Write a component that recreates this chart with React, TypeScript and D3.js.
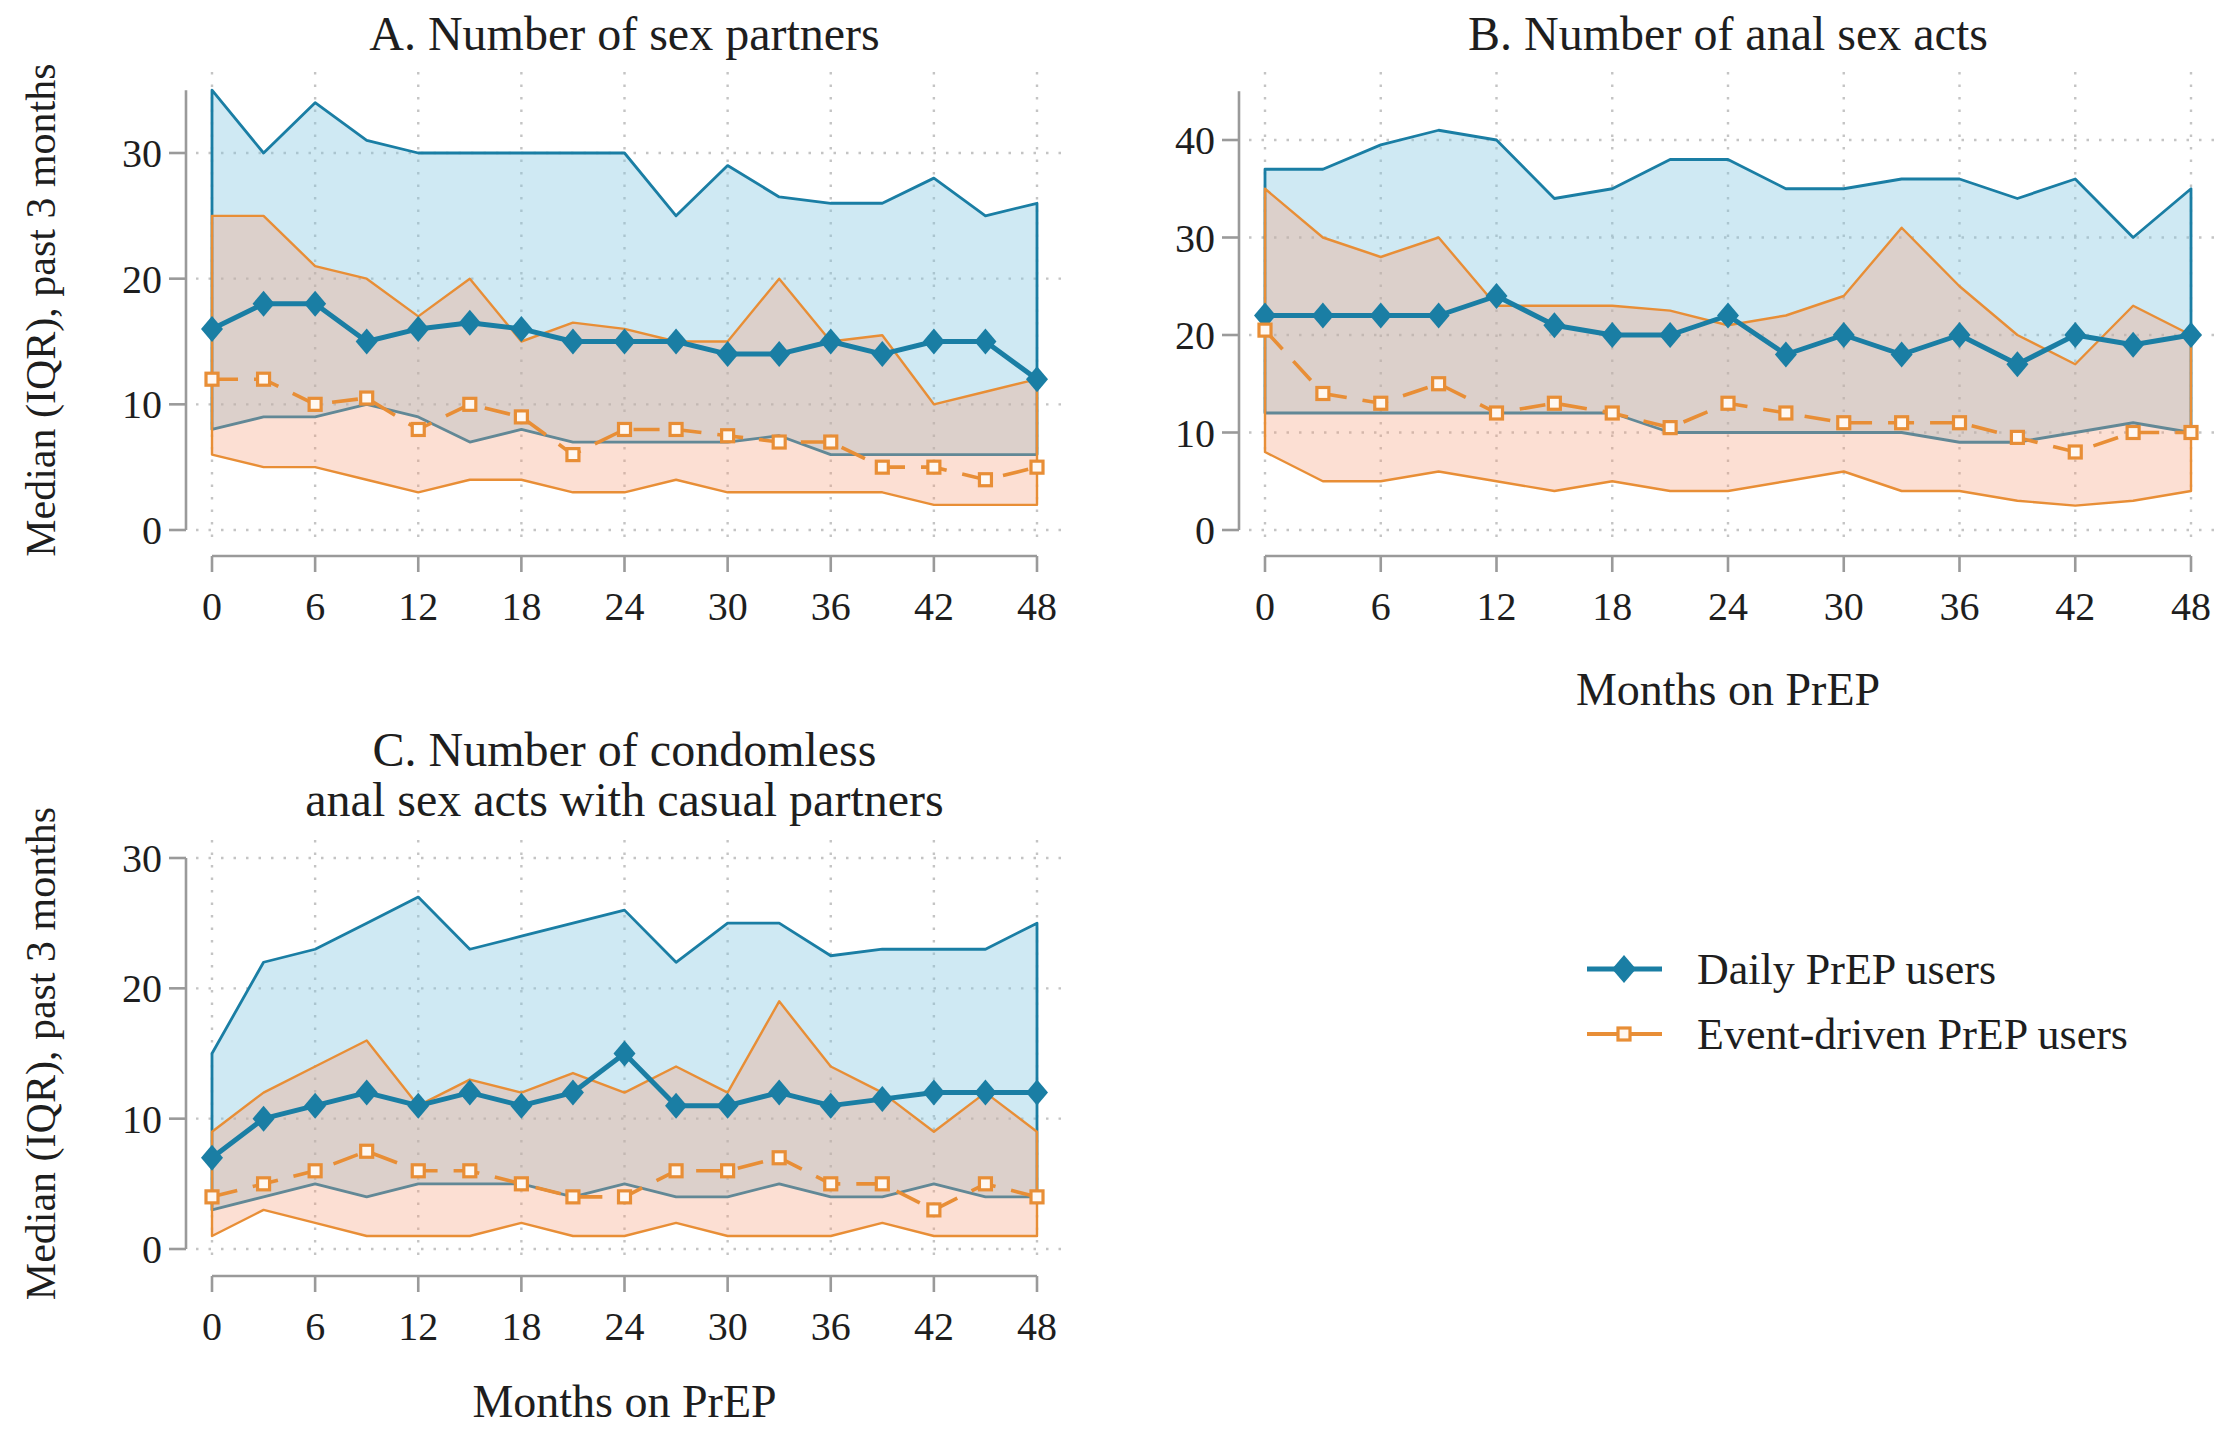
import React from 'react';
import * as d3 from 'd3';

const months = [0, 3, 6, 9, 12, 15, 18, 21, 24, 27, 30, 33, 36, 39, 42, 45, 48];
const xTicks = [0, 6, 12, 18, 24, 30, 36, 42, 48];

// A. Number of sex partners
const dailyMedA = [16, 18, 18, 15, 16, 16.5, 16, 15, 15, 15, 14, 14, 15, 14, 15, 15, 12];
const dailyP25A = [8, 9, 9, 10, 9, 7, 8, 7, 7, 7, 7, 7.5, 6, 6, 6, 6, 6];
const dailyP75A = [35, 30, 34, 31, 30, 30, 30, 30, 30, 25, 29, 26.5, 26, 26, 28, 25, 26];
const eventMedA = [12, 12, 10, 10.5, 8, 10, 9, 6, 8, 8, 7.5, 7, 7, 5, 5, 4, 5];
const eventP25A = [6, 5, 5, 4, 3, 4, 4, 3, 3, 4, 3, 3, 3, 3, 2, 2, 2];
const eventP75A = [25, 25, 21, 20, 17, 20, 15, 16.5, 16, 15, 15, 20, 15, 15.5, 10, 11, 12];

// B. Number of anal sex acts
const dailyMedB = [22, 22, 22, 22, 24, 21, 20, 20, 22, 18, 20, 18, 20, 17, 20, 19, 20];
const dailyP25B = [12, 12, 12, 12, 12, 12, 12, 10, 10, 10, 10, 10, 9, 9, 10, 11, 10];
const dailyP75B = [37, 37, 39.5, 41, 40, 34, 35, 38, 38, 35, 35, 36, 36, 34, 36, 30, 35];
const eventMedB = [20.5, 14, 13, 15, 12, 13, 12, 10.5, 13, 12, 11, 11, 11, 9.5, 8, 10, 10];
const eventP25B = [8, 5, 5, 6, 5, 4, 5, 4, 4, 5, 6, 4, 4, 3, 2.5, 3, 4];
const eventP75B = [35, 30, 28, 30, 23, 23, 23, 22.5, 21, 22, 24, 31, 25, 20, 17, 23, 20];

// C. Number of condomless anal sex acts with casual partners
const dailyMedC = [7, 10, 11, 12, 11, 12, 11, 12, 15, 11, 11, 12, 11, 11.5, 12, 12, 12];
const dailyP25C = [3, 4, 5, 4, 5, 5, 5, 4, 5, 4, 4, 5, 4, 4, 5, 4, 4];
const dailyP75C = [15, 22, 23, 25, 27, 23, 24, 25, 26, 22, 25, 25, 22.5, 23, 23, 23, 25];
const eventMedC = [4, 5, 6, 7.5, 6, 6, 5, 4, 4, 6, 6, 7, 5, 5, 3, 5, 4];
const eventP25C = [1, 3, 2, 1, 1, 1, 2, 1, 1, 2, 1, 1, 1, 2, 1, 1, 1];
const eventP75C = [9, 12, 14, 16, 11, 13, 12, 13.5, 12, 14, 12, 19, 14, 12, 9, 12, 9];

const legendLabels = ['Daily PrEP users', 'Event-driven PrEP users'];

const BLUE = '#1a7ea4';
const BLUE_FILL = 'rgb(135,200,225)';
const ORANGE = '#e88e36';
const ORANGE_FILL = 'rgb(246,159,120)';
const AXIS = '#9a9a9a';
const GRID = '#c4c4c4';
const TEXT = '#1e1e1e';
const FONT = '"Liberation Serif", "Times New Roman", Times, serif';

type Series = { med: number[]; p25: number[]; p75: number[] };

const diamond = (w: number, h: number) => `M0,${-h}L${w},0L0,${h}L${-w},0Z`;

type PanelProps = {
  title: string[];
  titleY: number;
  daily: Series;
  event: Series;
  xRange: [number, number];
  yMap: [number, number, number, number]; // value0, px0, value1, px1
  yMax: number;
  yTicks: number[];
  axisX: number;
  xAxisY: number;
  plotTop: number;
  plotRight: number;
  xTitleY?: number;
  yTitle?: boolean;
};

function Panel(p: PanelProps) {
  const x = d3.scaleLinear().domain([0, 48]).range(p.xRange);
  const y = d3.scaleLinear().domain([p.yMap[0], p.yMap[2]]).range([p.yMap[1], p.yMap[3]]);

  const area = (s: Series) =>
    d3.area<number>()
      .x((m) => x(m))
      .y0((_, i) => y(s.p25[i]))
      .y1((_, i) => y(s.p75[i]))(months) as string;

  const line = (vals: number[]) =>
    d3.line<number>()
      .x((m) => x(m))
      .y((_, i) => y(vals[i]))(months) as string;

  const cx = (p.xRange[0] + p.xRange[1]) / 2;
  const gridBottom = y(0) + 14;

  return (
    <g>
      {/* gridlines */}
      {p.yTicks.map((t) => (
        <line key={'hy' + t} x1={p.axisX + 10} x2={p.plotRight} y1={y(t)} y2={y(t)}
          stroke={GRID} strokeWidth={2.4} strokeDasharray="2.5 10" />
      ))}
      {xTicks.map((t) => (
        <line key={'vx' + t} x1={x(t)} x2={x(t)} y1={p.plotTop} y2={gridBottom}
          stroke={GRID} strokeWidth={2.4} strokeDasharray="2.5 10" />
      ))}

      {/* IQR bands */}
      <path d={area(p.daily)} fill={BLUE_FILL} fillOpacity={0.4} stroke={BLUE} strokeWidth={2.8} strokeLinejoin="round" />
      <path d={area(p.event)} fill={ORANGE_FILL} fillOpacity={0.33} stroke={ORANGE} strokeWidth={2.4} strokeLinejoin="round" />

      {/* medians */}
      <path d={line(p.daily.med)} fill="none" stroke={BLUE} strokeWidth={5} strokeLinejoin="round" />
      {months.map((m, i) => (
        <path key={'d' + m} d={diamond(11, 13)} transform={`translate(${x(m)},${y(p.daily.med[i])})`} fill={BLUE} />
      ))}
      <path d={line(p.event.med)} fill="none" stroke={ORANGE} strokeWidth={3.6} strokeDasharray="26 16" />
      {months.map((m, i) => (
        <rect key={'e' + m} x={x(m) - 6} y={y(p.event.med[i]) - 6} width={12} height={12}
          fill="#fff8f2" stroke={ORANGE} strokeWidth={3.2} />
      ))}

      {/* y axis */}
      <line x1={p.axisX} x2={p.axisX} y1={y(0)} y2={y(p.yMax)} stroke={AXIS} strokeWidth={2.6} />
      {p.yTicks.map((t) => (
        <g key={'yt' + t}>
          <line x1={p.axisX - 17} x2={p.axisX} y1={y(t)} y2={y(t)} stroke={AXIS} strokeWidth={2.6} />
          <text x={p.axisX - 24} y={y(t)} dy="0.35em" textAnchor="end" fontSize={40} fill={TEXT}>{t}</text>
        </g>
      ))}

      {/* x axis */}
      <line x1={x(0)} x2={x(48)} y1={p.xAxisY} y2={p.xAxisY} stroke={AXIS} strokeWidth={2.6} />
      {xTicks.map((t) => (
        <g key={'xt' + t}>
          <line x1={x(t)} x2={x(t)} y1={p.xAxisY} y2={p.xAxisY + 16} stroke={AXIS} strokeWidth={2.6} />
          <text x={x(t)} y={p.xAxisY + 64} textAnchor="middle" fontSize={40} fill={TEXT}>{t}</text>
        </g>
      ))}

      {/* titles */}
      {p.title.map((tl, i) => (
        <text key={tl} x={cx} y={p.titleY + i * 50} textAnchor="middle" fontSize={48} fill={TEXT}>{tl}</text>
      ))}
      {p.xTitleY !== undefined && (
        <text x={cx} y={p.xTitleY} textAnchor="middle" fontSize={46} fill={TEXT}>Months on PrEP</text>
      )}
      {p.yTitle && (
        <text transform={`translate(55,${(y(0) + y(p.yMax)) / 2}) rotate(-90)`} textAnchor="middle" fontSize={42} fill={TEXT}>
          Median (IQR), past 3 months
        </text>
      )}
    </g>
  );
}

export default function App() {
  return (
    <div style={{ position: 'absolute', left: 0, top: 0 }}>
      <svg width={2217} height={1429} style={{ display: 'block', background: '#fff', fontFamily: FONT }}>
        <Panel
          title={['A. Number of sex partners']}
          titleY={50}
          daily={{ med: dailyMedA, p25: dailyP25A, p75: dailyP75A }}
          event={{ med: eventMedA, p25: eventP25A, p75: eventP75A }}
          xRange={[212, 1037]}
          yMap={[0, 530, 30, 153]}
          yMax={35}
          yTicks={[0, 10, 20, 30]}
          axisX={186}
          xAxisY={556}
          plotTop={72}
          plotRight={1064}
          yTitle
        />
        <Panel
          title={['B. Number of anal sex acts']}
          titleY={50}
          daily={{ med: dailyMedB, p25: dailyP25B, p75: dailyP75B }}
          event={{ med: eventMedB, p25: eventP25B, p75: eventP75B }}
          xRange={[1265, 2191]}
          yMap={[0, 530, 40, 140]}
          yMax={45}
          yTicks={[0, 10, 20, 30, 40]}
          axisX={1239}
          xAxisY={556}
          plotTop={72}
          plotRight={2217}
          xTitleY={705}
        />
        <Panel
          title={['C. Number of condomless', 'anal sex acts with casual partners']}
          titleY={766}
          daily={{ med: dailyMedC, p25: dailyP25C, p75: dailyP75C }}
          event={{ med: eventMedC, p25: eventP25C, p75: eventP75C }}
          xRange={[212, 1037]}
          yMap={[0, 1249, 30, 858]}
          yMax={30}
          yTicks={[0, 10, 20, 30]}
          axisX={186}
          xAxisY={1276}
          plotTop={840}
          plotRight={1064}
          xTitleY={1417}
          yTitle
        />

        {/* legend */}
        <g>
          <line x1={1587} x2={1662} y1={969} y2={969} stroke={BLUE} strokeWidth={5} />
          <path d={diamond(12, 14)} transform="translate(1624,969)" fill={BLUE} />
          <text x={1697} y={969} dy="0.35em" fontSize={44} fill={TEXT}>{legendLabels[0]}</text>
          <line x1={1587} x2={1662} y1={1034} y2={1034} stroke={ORANGE} strokeWidth={4} />
          <rect x={1618} y={1028} width={12} height={12} fill="#fff8f2" stroke={ORANGE} strokeWidth={3.2} />
          <text x={1697} y={1034} dy="0.35em" fontSize={44} fill={TEXT}>{legendLabels[1]}</text>
        </g>
      </svg>
    </div>
  );
}
